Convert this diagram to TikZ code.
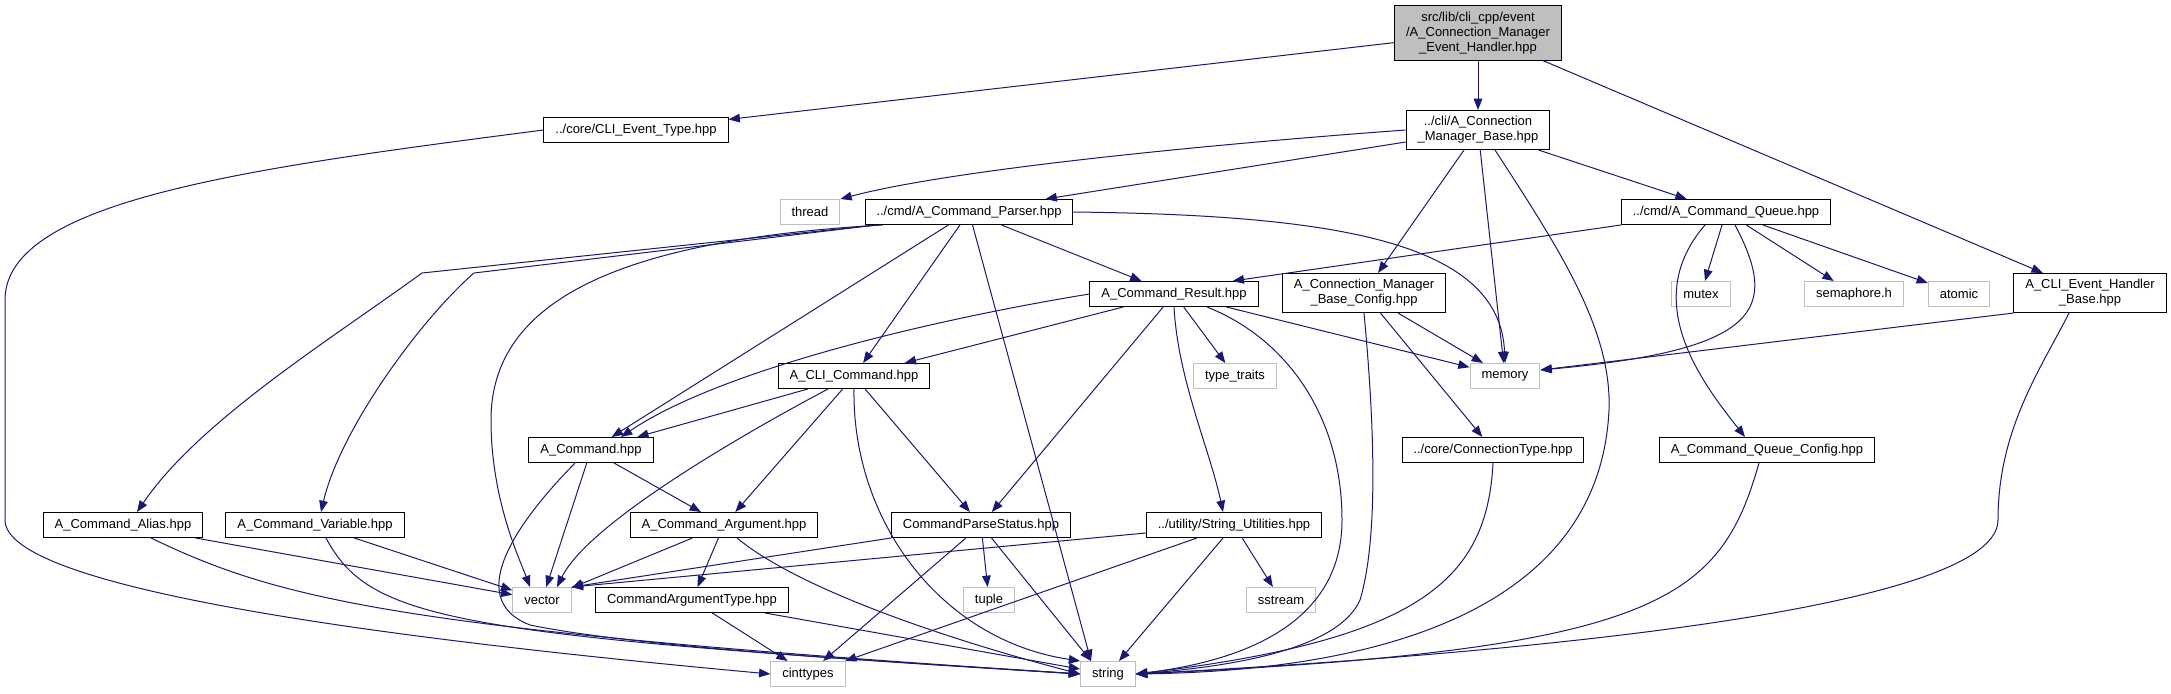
\documentclass[tikz,border=0pt]{standalone}
\usepackage{fontspec}
\setmainfont{Liberation Sans}
\usetikzlibrary{arrows.meta,calc}
\definecolor{incblue}{RGB}{25,25,112}
\definecolor{rootgray}{RGB}{191,191,191}
\definecolor{sysgray}{RGB}{191,191,191}

\begin{document}
\begin{tikzpicture}[x=0.75pt,y=-0.75pt,every node/.style={font=\fontsize{9.75}{11.25}\selectfont,align=center,inner xsep=8.6pt,inner ysep=4.5pt,minimum height=18.75pt},
hdr/.style={draw=black,line width=0.75pt,fill=white},sys/.style={draw=sysgray,line width=0.75pt,fill=white},
inc/.style={draw=incblue,line width=0.75pt,-{Triangle[length=8.5pt,width=6.5pt]}}]
\fill[white] (0,0) rectangle (2171,693);
\useasboundingbox (0,0) rectangle (2171,693);
\node[hdr,fill=rootgray] (root) at (1478,33) {src/lib/cli\_cpp/event\\/A\_Connection\_Manager\\\_Event\_Handler.hpp};
\node[hdr] (evtype) at (636,130) {../core/CLI\_Event\_Type.hpp};
\node[hdr] (base) at (1478,130) {../cli/A\_Connection\\\_Manager\_Base.hpp};
\node[sys] (thread) at (810,212) {thread};
\node[hdr] (parser) at (969,212) {../cmd/A\_Command\_Parser.hpp};
\node[hdr] (queue) at (1726,212) {../cmd/A\_Command\_Queue.hpp};
\node[hdr] (result) at (1174,294) {A\_Command\_Result.hpp};
\node[hdr] (cfg) at (1364,293) {A\_Connection\_Manager\\\_Base\_Config.hpp};
\node[sys] (mutex) at (1701,294) {mutex};
\node[sys] (semaphore) at (1854,294) {semaphore.h};
\node[sys] (atomic) at (1959,294) {atomic};
\node[hdr] (handler) at (2090,293) {A\_CLI\_Event\_Handler\\\_Base.hpp};
\node[hdr] (clicmd) at (854,376) {A\_CLI\_Command.hpp};
\node[sys] (traits) at (1235,376) {type\_traits};
\node[sys] (memory) at (1505,376) {memory};
\node[hdr] (cmd) at (591,450) {A\_Command.hpp};
\node[hdr] (conntype) at (1493,450) {../core/ConnectionType.hpp};
\node[hdr] (qcfg) at (1767,450) {A\_Command\_Queue\_Config.hpp};
\node[hdr] (alias) at (123,525) {A\_Command\_Alias.hpp};
\node[hdr] (variable) at (315,525) {A\_Command\_Variable.hpp};
\node[hdr] (argument) at (724,525) {A\_Command\_Argument.hpp};
\node[hdr] (status) at (981,525) {CommandParseStatus.hpp};
\node[hdr] (strutil) at (1234,525) {../utility/String\_Utilities.hpp};
\node[sys] (vector) at (542,600) {vector};
\node[hdr] (argtype) at (692,600) {CommandArgumentType.hpp};
\node[sys] (tuple) at (989,600) {tuple};
\node[sys] (sstream) at (1281,600) {sstream};
\node[sys] (cinttypes) at (808,674) {cinttypes};
\node[sys] (string) at (1108,674) {string};
\draw[inc] (root) -- (evtype); \draw[inc] (root) -- (base); \draw[inc] (root) -- (handler);
\draw[inc] (evtype.west) .. controls (250,168) and (5,200) .. (5,300) -- (5,520) .. controls (5,590) and (400,640) .. (cinttypes.west);
\draw[inc] (base.west) .. controls (1200,145) and (950,170) .. (thread.north east);
\draw[inc] ($(base.west)+(0,12)$) -- ($(parser.north east)+(-28,0)$);
\draw[inc] (base) -- (cfg); \draw[inc] (base) -- (memory); \draw[inc] (base) -- (queue);
\draw[inc] ($(base.south)+(17,0)$) .. controls (1560,250) and (1612,330) .. (1609,410) .. controls (1600,600) and (1400,670) .. (string.east);
\draw[inc] (handler.south west) -- ($(memory.east)+(0,-6)$);
\draw[inc] ($(handler.south)+(-21,0)$) .. controls (2040,370) and (1998,430) .. (1998,520) .. controls (1998,620) and (1400,660) .. (string.east);
\draw[inc] ($(parser.south west)+(12,0)$) -- (422,273) .. controls (330,340) and (200,420) .. ($(alias.north)+(14,0)$);
\draw[inc] ($(parser.south west)+(12,0)$) -- (474,273) .. controls (420,320) and (340,430) .. ($(variable.north)+(6,0)$);
\draw[inc] ($(parser.south west)+(18,0)$) .. controls (620,240) and (491,300) .. (491,420) .. controls (491,500) and (520,560) .. ($(vector.north)+(-12,0)$);
\draw[inc] (parser) -- (cmd); \draw[inc] (parser) -- (clicmd); \draw[inc] (parser) -- (result);
\draw[inc] (parser) -- ($(string.north)+(-17,0)$);
\draw[inc] (parser.east) .. controls (1330,215) and (1500,240) .. (memory.north);
\draw[inc] (result) -- (clicmd); \draw[inc] (result) -- (traits); \draw[inc] (result) -- (status); \draw[inc] (result) -- (memory);
\draw[inc] (result.west) .. controls (930,320) and (720,370) .. ($(cmd.north)+(30,0)$);
\draw[inc] (result.south) .. controls (1178,380) and (1210,450) .. ($(strutil.north)+(-11,0)$);
\draw[inc] ($(result.south)+(33,0)$) .. controls (1290,340) and (1342,420) .. (1342,520) .. controls (1342,620) and (1250,660) .. (string.east);
\draw[inc] (clicmd) -- (cmd); \draw[inc] (clicmd) -- (argument); \draw[inc] (clicmd) -- (status);
\draw[inc] ($(clicmd.south)+(-26,0)$) .. controls (760,425) and (590,520) .. ($(vector.north)+(15,0)$);
\draw[inc] (clicmd.south) .. controls (852,520) and (940,640) .. (string.north west);
\draw[inc] (cmd) -- (vector); \draw[inc] (cmd) -- (argument);
\draw[inc] ($(cmd.south)+(-16,0)$) .. controls (490,550) and (478,605) .. (530,625) .. controls (650,650) and (950,665) .. (string.west);
\draw[inc] (argument) -- (vector); \draw[inc] (argument) -- (argtype);
\draw[inc] ($(argument.south)+(13,0)$) .. controls (800,590) and (950,640) .. (string.west);
\draw[inc] (status.south west) -- (vector.north east);
\draw[inc] (status) -- (cinttypes); \draw[inc] (status) -- (tuple);
\draw[inc] (status) -- ($(string.north)+(-17,0)$);
\draw[inc] (argtype) -- (cinttypes); \draw[inc] (argtype) -- (string);
\draw[inc] (alias) -- (vector);
\draw[inc] ($(alias.south)+(28,0)$) .. controls (280,600) and (400,630) .. (string.west);
\draw[inc] (variable) -- (vector);
\draw[inc] ($(variable.south)+(11,0)$) .. controls (370,620) and (450,635) .. (string.west);
\draw[inc] ($(strutil.west)+(0,8)$) -- (vector.north east);
\draw[inc] (strutil) -- (cinttypes); \draw[inc] (strutil) -- (string); \draw[inc] (strutil) -- (sstream);
\draw[inc] (queue.south west) -- ($(result.north east)+(-26,0)$);
\draw[inc] (queue) -- (mutex); \draw[inc] (queue) -- (semaphore); \draw[inc] (queue) -- (atomic);
\draw[inc] ($(queue.south)+(9,0)$) .. controls (1780,310) and (1760,350) .. ($(memory.east)+(0,-6)$);
\draw[inc] ($(queue.south)+(-21,0)$) .. controls (1640,300) and (1700,380) .. ($(qcfg.north)+(-22,0)$);
\draw[inc] (cfg) -- (memory); \draw[inc] (cfg) -- (conntype);
\draw[inc] (cfg.south) .. controls (1375,430) and (1378,540) .. (1360,600) .. controls (1340,645) and (1250,665) .. (string.east);
\draw[inc] (conntype.south) .. controls (1487,580) and (1420,640) .. (string.east);
\draw[inc] ($(qcfg.south)+(-8,0)$) .. controls (1720,600) and (1660,650) .. (string.east);
\end{tikzpicture}
\end{document}
